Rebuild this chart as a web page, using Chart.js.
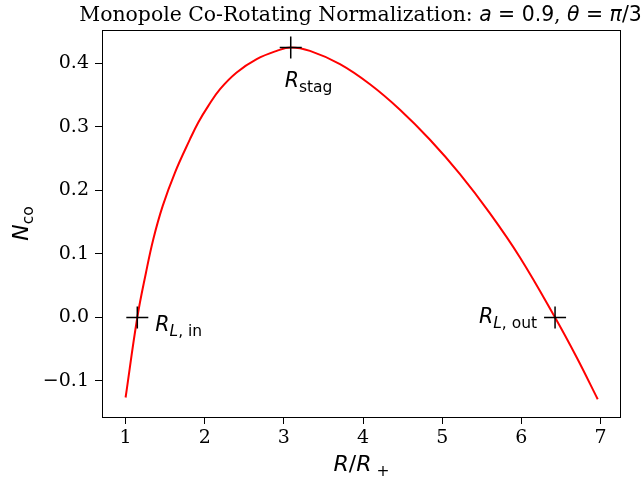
<!DOCTYPE html>
<html><head><meta charset="utf-8">
<script src="https://cdn.jsdelivr.net/npm/chart.js@4/dist/chart.umd.min.js"></script>
<style>html,body{margin:0;padding:0;background:#fff;}canvas{display:block;}</style>
</head><body>
<canvas id="c" width="644" height="477"></canvas>
<script>
// ---- data ----
const rValues = [1.000, 1.148, 1.258, 1.350, 1.469, 1.624, 1.814, 1.918, 2.045, 2.193, 2.403, 2.656, 2.909, 3.086,
                 3.329, 3.708, 4.087, 4.466, 4.845, 5.224, 5.603, 5.982, 6.425, 6.699, 6.964];
const nValues = [-0.126, 0.000, 0.0709, 0.1233, 0.1757, 0.2283, 0.2808, 0.3071, 0.3332, 0.3595, 0.3858, 0.4068, 0.4198, 0.4252,
                 0.4198, 0.3989, 0.3672, 0.3271, 0.2798, 0.2257, 0.1639, 0.0945, 0.000, -0.063, -0.1287];
const xTickValues = [1, 2, 3, 4, 5, 6, 7];
const yTickValues = [-0.1, 0.0, 0.1, 0.2, 0.3, 0.4];
const markerR = [1.148, 3.086, 6.425];
const markerN = [0.000, 0.4252, 0.000];
const markerSubs = [['L', ', in'], ['', 'stag'], ['L', ', out']];
const titleText = 'Monopole Co-Rotating Normalization: ';
const xLabelMain = ['R', '/', 'R'], xLabelSub = ' +';
const yLabelMain = 'N', yLabelSub = 'co';

// ---- styles ----
const SERIF = '"DejaVu Serif"', SANS = '"DejaVu Sans"';
const it = s => `italic ${s}px ${SANS}`;
const rm = s => `${s}px ${SANS}`;
const sf = s => `${s}px ${SERIF}`;

function drawRuns(ctx, runs, x, y, align) {
  let w = 0;
  runs.forEach(r => { ctx.font = r.font; r.w = ctx.measureText(r.t).width; w += r.w; });
  let cx = align === 'center' ? x - w / 2 : align === 'right' ? x - w : x;
  ctx.textAlign = 'left';
  ctx.textBaseline = 'alphabetic';
  runs.forEach(r => { ctx.font = r.font; ctx.fillText(r.t, cx, y + (r.dy || 0)); cx += r.w; });
  return w;
}

const textPlugin = {
  id: 'textPlugin',
  afterDraw(chart) {
    const ctx = chart.ctx, a = chart.chartArea;
    const xs = chart.scales.x, ys = chart.scales.y;
    ctx.save();
    // frame
    ctx.strokeStyle = '#000'; ctx.lineWidth = 1;
    ctx.strokeRect(Math.round(a.left) + 0.5, Math.round(a.top) + 0.5,
                   Math.round(a.right - a.left) - 1, Math.round(a.bottom - a.top));
    ctx.fillStyle = '#000';
    const cxm = (a.left + a.right) / 2;
    // title
    const ts = 20.4;
    drawRuns(ctx, [
      {t: titleText, font: sf(ts)},
      {t: 'a', font: it(ts)}, {t: ' = 0.9', font: rm(ts)},
      {t: ', ', font: sf(ts)},
      {t: 'θ', font: it(ts)}, {t: ' = ', font: rm(ts)},
      {t: 'π', font: it(ts)}, {t: '/3', font: rm(ts)}
    ], cxm - 1, 21, 'center');
    // x label
    drawRuns(ctx, [
      {t: xLabelMain[0], font: it(22)}, {t: xLabelMain[1], font: rm(22)}, {t: xLabelMain[2], font: it(22)},
      {t: xLabelSub, font: rm(15.5), dy: 5}
    ], cxm, 471, 'center');
    // y label (rotated)
    ctx.save();
    ctx.translate(28, (a.top + a.bottom) / 2);
    ctx.rotate(-Math.PI / 2);
    drawRuns(ctx, [{t: yLabelMain, font: it(22)}, {t: yLabelSub, font: rm(15.5), dy: 5}], 0, 0, 'center');
    ctx.restore();
    // annotations
    const offs = [{dx: 18, dy: 14, al: 'left'}, {dx: -6, dy: 40, al: 'left'}, {dx: -18, dy: 6, al: 'right'}];
    markerR.forEach((r, i) => {
      const px = xs.getPixelForValue(r), py = ys.getPixelForValue(markerN[i]);
      const sub = markerSubs[i];
      const runs = [{t: 'R', font: it(20.5)}];
      if (sub[0]) runs.push({t: sub[0], font: it(15.5), dy: 5});
      runs.push({t: sub[1], font: rm(15.5), dy: 5});
      drawRuns(ctx, runs, px + offs[i].dx, py + offs[i].dy, offs[i].al);
    });
    ctx.restore();
  }
};

const tickFont = {family: 'DejaVu Serif', size: 19};
new Chart(document.getElementById('c'), {
  type: 'line',
  data: {
    datasets: [
      {
        type: 'scatter',
        data: markerR.map((x, i) => ({x, y: markerN[i]})),
        pointStyle: 'cross', pointRadius: 11, pointBorderWidth: 1.5,
        borderColor: '#000', backgroundColor: '#000', showLine: false, order: 0
      },
      {
        data: rValues.map((x, i) => ({x, y: nValues[i]})),
        borderColor: '#ff0000', borderWidth: 2, pointRadius: 0, fill: false,
        tension: 0.4, order: 1
      }
    ]
  },
  options: {
    responsive: false, devicePixelRatio: 1, animation: false,
    layout: {padding: {top: 30, right: 23, left: 0, bottom: 0}},
    plugins: {legend: {display: false}, tooltip: {enabled: false}, title: {display: false}},
    scales: {
      x: {
        type: 'linear', min: 0.702, max: 7.258,
        afterBuildTicks: s => { s.ticks = xTickValues.map(v => ({value: v})); },
        afterFit: s => { s.height = 60; },
        ticks: {font: tickFont, color: '#000', padding: 3, maxRotation: 0, callback: v => String(v)},
        grid: {drawOnChartArea: false, drawTicks: true, tickLength: 7, color: '#000', lineWidth: 1},
        border: {display: false}
      },
      y: {
        type: 'linear', min: -0.1567, max: 0.4527,
        afterBuildTicks: s => { s.ticks = yTickValues.map(v => ({value: v})); },
        afterFit: s => { s.width = 102; },
        ticks: {font: tickFont, color: '#000', padding: 6,
                callback: v => v.toFixed(1).replace('-', '\u2212')},
        grid: {drawOnChartArea: false, drawTicks: true, tickLength: 7, color: '#000', lineWidth: 1},
        border: {display: false}
      }
    }
  },
  plugins: [textPlugin]
});
</script>
</body></html>
